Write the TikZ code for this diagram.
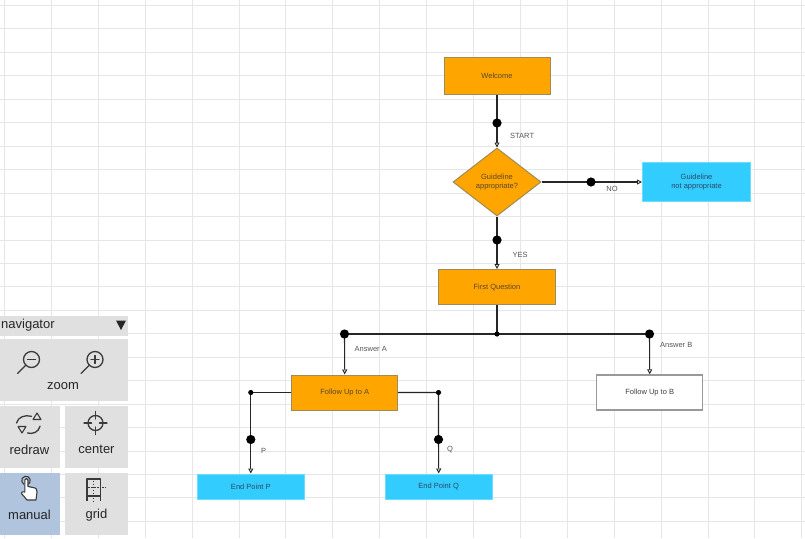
\documentclass[tikz,border=0pt]{standalone}
\usepackage{fontspec}
\setmainfont{Liberation Sans}
\usetikzlibrary{shapes.geometric,arrows.meta}
\definecolor{gridc}{HTML}{E6E6E6}
\definecolor{orfill}{HTML}{FFA500}
\definecolor{orline}{HTML}{A08A55}
\definecolor{ortext}{HTML}{5A4530}
\definecolor{blfill}{HTML}{33CCFF}
\definecolor{blline}{HTML}{6ADDFF}
\definecolor{bltext}{HTML}{2A4A66}
\definecolor{lbl}{HTML}{555555}
\definecolor{navbg}{HTML}{E0E0E0}
\definecolor{navsel}{HTML}{B0C4DE}
\definecolor{icon}{HTML}{3A3A3A}
\tikzset{
  gridl/.style={draw=gridc, line width=1pt},
  txt/.style={font=\fontsize{7.5}{9}\selectfont, align=center},
  obox/.style={txt, rectangle, draw=orline, fill=orfill, text=ortext, line width=1pt, minimum height=35pt, minimum width=106pt, inner sep=0pt},
  bbox/.style={txt, rectangle, draw=blline, fill=blfill, text=bltext, line width=1pt, minimum height=25pt, minimum width=107pt, inner sep=0pt},
  wbox/.style={txt, rectangle, draw=gray!80, fill=white, text=black!75, line width=1.4pt, minimum height=35pt, minimum width=106pt, inner sep=0pt},
  odia/.style={txt, diamond, draw=orline, fill=orfill, text=ortext, line width=1pt, minimum width=88pt, minimum height=68pt, inner sep=0pt},
  conn/.style={draw=black!85, line width=1.1pt},
  arr/.style={conn, -{Triangle[fill=white,length=5pt,width=5pt,line width=0.9pt]}},
  lab/.style={font=\fontsize{7.5}{9}\selectfont, text=lbl, inner sep=0pt},
  navtxt/.style={font=\fontsize{13}{15}\selectfont, text=black!85, inner sep=0pt},
  icn/.style={draw=icon, line width=1.3pt, line cap=round, line join=round},
}
\begin{document}
\begin{tikzpicture}[x=1pt,y=-1pt]
\useasboundingbox (0,0) rectangle (805,538);
\fill[white] (0,0) rectangle (805,538);
% grid
\foreach \i in {0,...,17} \draw[gridl] ({4.5+46.9*\i},0) -- ({4.5+46.9*\i},538);
\foreach \j in {0,...,22} \draw[gridl] (0,{5.5+23.45*\j}) -- (805,{5.5+23.45*\j});

% nodes
\node[obox, minimum width=106pt, minimum height=37pt] (welcome) at (497,76) {Welcome};
\node[odia] (guide) at (497,182) {Guideline\\appropriate?};
\node[bbox, minimum width=108pt, minimum height=39pt] (notapp) at (696.5,182) {Guideline\\not appropriate};
\node[obox, minimum width=117pt] (first) at (497,287) {First Question};
\node[obox] (fua) at (344.7,392.5) {Follow Up to A};
\node[wbox] (fub) at (649.7,392.5) {Follow Up to B};
\node[bbox] (epp) at (250.8,486.5) {End Point P};
\node[bbox] (epq) at (438.7,486.5) {End Point Q};

% connector helper points
\coordinate (d1) at (497,123);
\coordinate (d2) at (591,182);
\coordinate (d3) at (497,240);
\coordinate (j) at (497,334);
\coordinate (aa) at (344.5,334);
\coordinate (ab) at (649.5,334);
\coordinate (pc) at (250.8,392.5);
\coordinate (qc) at (438.5,392.5);
\coordinate (dp) at (250.8,439.5);
\coordinate (dq) at (438.5,439.5);

% connectors
\draw[arr] (welcome.south) -- (d1) -- (guide.north);
\draw[arr] (guide.east) -- (d2) -- (notapp.west);
\draw[arr] (guide.south) -- (d3) -- (first.north);
\draw[conn] (first.south) -- (j);
\draw[conn] (aa) -- (ab);
\draw[arr] (aa) -- (fua.north);
\draw[arr] (ab) -- (fub.north);
\draw[arr] (fua.west) -- (pc) -- (dp) -- (epp.north);
\draw[arr] (fua.east) -- (qc) -- (dq) -- (epq.north);

% dots
\foreach \p in {d1,d2,d3,aa,ab,dp,dq} \fill[black] (\p) circle (4.6pt);
\foreach \p in {j,pc,qc} \fill[black] (\p) circle (2.6pt);

% labels
\node[lab, anchor=west] (lstart) at (510,136) {START};
\node[lab] (lno) at (612,189) {NO};
\node[lab, anchor=west] (lyes) at (512.5,255) {YES};
\node[lab, anchor=west] (la) at (354.5,348.5) {Answer A};
\node[lab, anchor=west] (lb) at (660,344.5) {Answer B};
\node[lab] (lp) at (263.5,451) {P};
\node[lab] (lq) at (450,449.5) {Q};

% navigator panel
\fill[navbg] (0,315.7) rectangle (128,335.7);
\node[navtxt, anchor=west] (navt) at (1,325.5) {navigator};
\fill[black!85] (116,320.5) -- (126,320.5) -- (121,330) -- cycle;
\fill[navbg] (0,339) rectangle (128,401.3);
\fill[navbg] (0,406.3) rectangle (59.5,468.3);
\fill[navbg] (65,406.3) rectangle (128,468.3);
\fill[navsel] (0,472.5) rectangle (59.5,534.5);
\fill[navbg] (65,472.5) rectangle (128,534.5);

% zoom icons
\draw[icn] (31.5,359.5) circle (8pt);
\draw[icn] (25.8,365.2) -- (17.5,373.5);
\draw[icn] (27.5,359.5) -- (35.5,359.5);
\draw[icn] (95,359.5) circle (8pt);
\draw[icn] (89.3,365.2) -- (81,373.5);
\draw[icn] (91,359.5) -- (99,359.5);
\draw[icn] (95,355.5) -- (95,363.5);
\node[navtxt] (zoomt) at (63,386) {zoom};

% redraw icon
\draw[icn] (16.5,423) .. controls (18,417) and (25,414.5) .. (31.5,416.3);
\draw[icn, line width=1.1pt] (33,419.5) -- (41,419.5) -- (37,413) -- cycle;
\draw[icn] (40,426.3) .. controls (38.5,432) and (33,434.5) .. (27.5,433);
\draw[icn, line width=1.1pt] (18,426.5) -- (26,426.5) -- (22,433) -- cycle;
\node[navtxt] (redrawt) at (29.5,449.5) {redraw};

% center icon
\draw[icn] (95.5,423) circle (7.5pt);
\draw[icn] (95.5,411.5) -- (95.5,419);
\draw[icn] (95.5,427) -- (95.5,434.5);
\draw[icn] (84,423) -- (91.5,423);
\draw[icn] (99.5,423) -- (107,423);
\node[navtxt] (centert) at (96.5,449.5) {center};

% hand icon
\draw[icn, line width=1.1pt] (23.85,484.22) arc (120:420:4.3);
\draw[icn, line width=1.1pt, fill=white] (24.8,491) -- (24.8,480) arc (180:360:1.6) -- (28,486.5) -- (33,487.5) .. controls (36.5,488) and (37,489.5) .. (37,492) -- (36,500) -- (27,500) -- (21.5,493.5) .. controls (21,492) and (23,491) .. (24.8,492) -- cycle;
\node[navtxt] (manualt) at (29.5,515) {manual};

% grid icon
\draw[icn, line width=1.1pt, line cap=butt] (87,479) rectangle (100.5,496);
\draw[icn, line width=1.1pt, line cap=butt] (87,496) -- (87,501);
\draw[icn, line width=1.1pt, line cap=butt] (100.5,496) -- (100.5,501);
\draw[icn, line width=1pt, dash pattern=on 1.5pt off 1.5pt, line cap=butt] (93.8,480.5) -- (93.8,495);
\draw[icn, line width=1pt, dash pattern=on 1.5pt off 1.5pt, line cap=butt] (88,487.5) -- (99.5,487.5);
\draw[icn, line width=1pt, dash pattern=on 1.5pt off 1.5pt, line cap=butt] (102,487.5) -- (106,487.5);
\draw[icn, line width=1pt, dash pattern=on 1.5pt off 1.5pt, line cap=butt] (93.8,497.5) -- (93.8,501);
\node[navtxt] (gridt) at (96.5,515) {grid};
\end{tikzpicture}
\end{document}
